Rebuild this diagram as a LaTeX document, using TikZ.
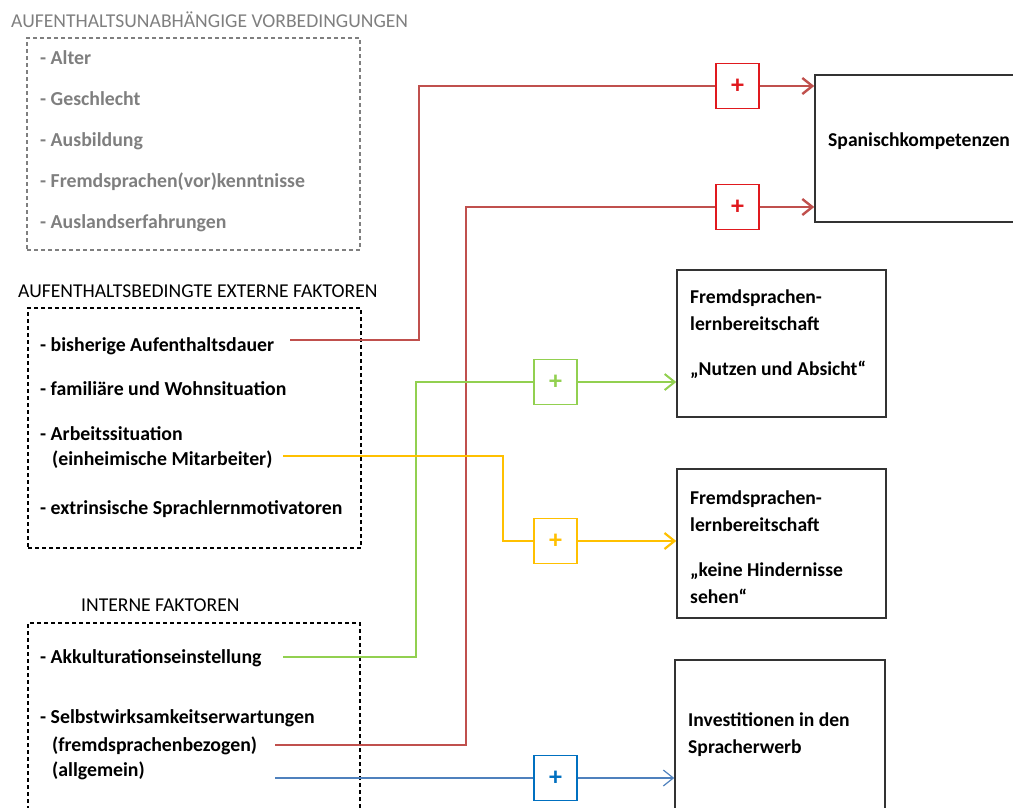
\documentclass[tikz,border=0pt]{standalone}
\usepackage{fontspec}
\setmainfont{Carlito}
\usetikzlibrary{arrows.meta}
\definecolor{greytext}{HTML}{7F7F7F}
\definecolor{redline}{HTML}{C0504D}
\definecolor{redmark}{HTML}{E0191E}
\definecolor{greenline}{HTML}{92D050}
\definecolor{yellowline}{HTML}{FFC000}
\definecolor{blueline}{HTML}{4F81BD}
\definecolor{bluemark}{HTML}{0070C0}
\definecolor{boxline}{HTML}{333333}
\tikzset{
  item/.style={anchor=base west, inner sep=0pt, font=\fontsize{19.8}{25}\selectfont\bfseries},
  header/.style={anchor=base west, inner sep=0pt, font=\fontsize{19.6}{22}\selectfont},
  groupbox/.style={draw, dash pattern=on 4pt off 3pt, line width=1.1pt, inner sep=0pt},
  outbox/.style={draw=boxline, line width=1.5pt, inner sep=0pt},
  boxtext/.style={anchor=base west, inner sep=0pt, font=\fontsize{19.6}{27}\selectfont\bfseries},
  plusbox/.style={draw=#1, fill=white, line width=1.3pt, minimum width=43pt, minimum height=45pt, inner sep=0pt,
                  text=#1, font=\fontsize{26}{26}\selectfont\bfseries},
  tip/.style={-{Straight Barb[length=10pt, width=16pt]}},
}
\begin{document}
\begin{tikzpicture}[x=1pt, y=-1pt]
\useasboundingbox (0,0) rectangle (1013,807);
\clip (0,0) rectangle (1013,807);

% group of preconditions independent of the stay
\node[header, text=greytext] (h1) at (11,27) {AUFENTHALTSUNABHÄNGIGE VORBEDINGUNGEN};
\node[groupbox, draw=greytext, minimum width=333pt, minimum height=212pt] (g1) at (193.5,144) {};
\begin{scope}[every node/.append style={text=greytext}]
\node[item] (a1) at (40,64) {- Alter};
\node[item] (a2) at (40,105) {- Geschlecht};
\node[item] (a3) at (40,146) {- Ausbildung};
\node[item] (a4) at (40,187) {- Fremdsprachen(vor)kenntnisse};
\node[item] (a5) at (40,228) {- Auslandserfahrungen};
\end{scope}

% external factors
\node[header] (h2) at (18,297) {AUFENTHALTSBEDINGTE EXTERNE FAKTOREN};
\node[groupbox, minimum width=333pt, minimum height=240pt] (g2) at (194.5,428) {};
\node[item] (b1) at (40,351) {- bisherige Aufenthaltsdauer};
\node[item] (b2) at (40,395) {- familiäre und Wohnsituation};
\node[item] (b3) at (40,440) {- Arbeitssituation};
\node[item] (b3b) at (52,465) {(einheimische Mitarbeiter)};
\node[item] (b4) at (40,514) {- extrinsische Sprachlernmotivatoren};

% internal factors
\node[header] (h3) at (81,611) {INTERNE FAKTOREN};
\node[groupbox, minimum width=332pt, minimum height=217pt] (g3) at (194,731.5) {};
\node[item] (c1) at (40,663) {- Akkulturationseinstellung};
\node[item] (c2) at (40,723) {- Selbstwirksamkeitserwartungen};
\node[item] (c2b) at (52,751) {(fremdsprachenbezogen)};
\node[item] (c2c) at (52,776) {(allgemein)};

% outcome boxes
\node[outbox, minimum width=215pt, minimum height=147pt] (spk) at (922.5,148.5) {};
\node[boxtext] (spkt) at (828,146) {Spanischkompetenzen};

\node[outbox, minimum width=209pt, minimum height=147pt] (fl1) at (781.5,343.5) {};
\node[boxtext] (fl1a) at (690,303) {Fremdsprachen-};
\node[boxtext] (fl1b) at (690,330) {lernbereitschaft};
\node[boxtext] (fl1c) at (690,375) {„Nutzen und Absicht“};

\node[outbox, minimum width=209pt, minimum height=149pt] (fl2) at (781.5,543.5) {};
\node[boxtext] (fl2a) at (690,504) {Fremdsprachen-};
\node[boxtext] (fl2b) at (690,531) {lernbereitschaft};
\node[boxtext] (fl2c) at (690,576) {„keine Hindernisse};
\node[boxtext] (fl2d) at (690,603) {sehen“};

\node[outbox, minimum width=210pt, minimum height=170pt] (inv) at (780,745) {};
\node[boxtext] (inva) at (688,726) {Investitionen in den};
\node[boxtext] (invb) at (688,753) {Spracherwerb};

% positive influence markers
\node[plusbox=redmark] (pr1) at (737.5,86) {+};
\node[plusbox=redmark] (pr2) at (737.5,207) {+};
\node[plusbox=greenline] (pg) at (555.5,382) {+};
\node[plusbox=yellowline] (py) at (555.5,541) {+};
\node[plusbox=bluemark] (pb) at (555.5,778) {+};

% connector starting points beside the factor texts
\coordinate (s1) at (290,340);
\coordinate (s2) at (275,745);
\coordinate (s3) at (283,657);
\coordinate (s4) at (283,456);
\coordinate (s5) at (275,778);

% connectors
\draw[redline, line width=2.4pt] (s1) -- ++(129,0) |- (pr1.west);
\draw[redline, line width=2.4pt, tip] (pr1.east) -- (spk.west |- pr1.east);
\draw[redline, line width=2.4pt] (s2) -- ++(191,0) |- (pr2.west);
\draw[redline, line width=2.4pt, tip] (pr2.east) -- (spk.west |- pr2.east);
\draw[greenline, line width=2pt] (s3) -- ++(133,0) |- (pg.west);
\draw[greenline, line width=2pt, tip] (pg.east) -- (fl1.west |- pg.east);
\draw[yellowline, line width=2.2pt] (s4) -- ++(220,0) |- (py.west);
\draw[yellowline, line width=2.2pt, tip] (py.east) -- (fl2.west |- py.east);
\draw[blueline, line width=1.2pt] (s5) -- (pb.west);
\draw[blueline, line width=1.2pt, tip] (pb.east) -- (inv.west |- pb.east);
\end{tikzpicture}
\end{document}
